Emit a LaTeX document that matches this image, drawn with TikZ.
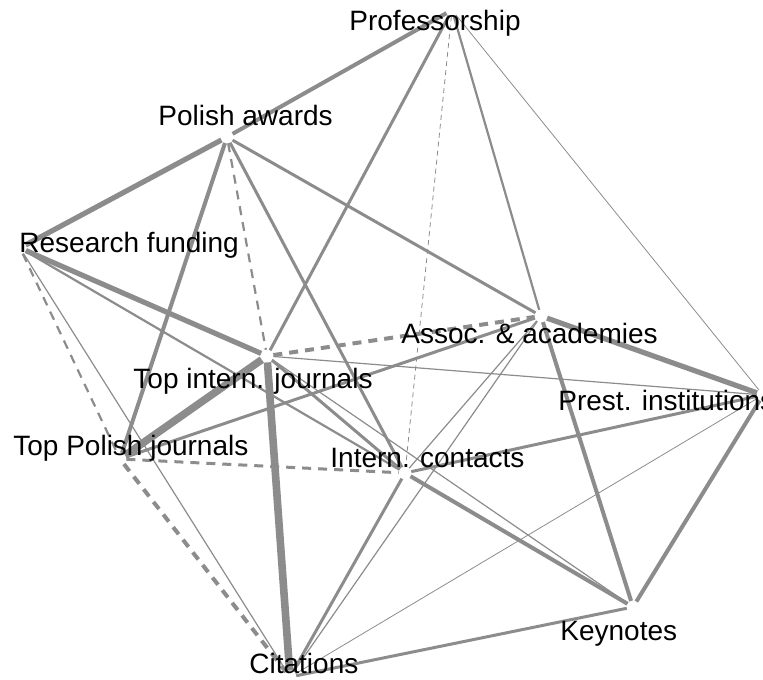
\documentclass[tikz,border=0pt]{standalone}
\usepackage{fontspec}
\setmainfont{Liberation Sans}
\definecolor{edgegray}{RGB}{140,140,140}
\begin{document}
\begin{tikzpicture}[x=0.5pt,y=-0.5pt,
    vtx/.style={circle,inner sep=0pt,minimum size=6pt},
    lbl/.style={anchor=base west,inner sep=0pt,font=\fontsize{14}{17}\selectfont},
    lnk/.style={draw=edgegray},
    faint/.style={lnk,line width=0.4pt},
    slim/.style={lnk,line width=0.6pt},
    light/.style={lnk,line width=1.1pt},
    mid/.style={lnk,line width=1.5pt},
    strong/.style={lnk,line width=2pt},
    heavy/.style={lnk,line width=2.6pt},
    massive/.style={lnk,line width=3.8pt},
    broken/.style={dash pattern=on 4.5pt off 3.5pt},
    finebroken/.style={dash pattern=on 2.5pt off 2pt}]
  \useasboundingbox (0,0) rectangle (763,679);
  \node[vtx] (prof) at (452,10) {};
  \node[vtx] (pawards) at (227,137) {};
  \node[vtx] (rfund) at (20,248) {};
  \node[vtx] (tij) at (267,356) {};
  \node[vtx] (tpj) at (120,459) {};
  \node[vtx] (ic) at (405,473) {};
  \node[vtx] (assoc) at (541,316) {};
  \node[vtx] (prest) at (763,395) {};
  \node[vtx] (keyn) at (633,607) {};
  \node[vtx] (cit) at (290,677) {};
  \draw[strong] (prof) -- (pawards);
  \draw[mid] (prof) -- (tij);
  \draw[faint,finebroken] (prof) -- (ic);
  \draw[light] (prof) -- (assoc);
  \draw[faint] (prof) -- (prest);
  \draw[heavy] (pawards) -- (rfund);
  \draw[strong] (pawards) -- (tpj);
  \draw[light,broken] (pawards) -- (tij);
  \draw[mid] (pawards) -- (ic);
  \draw[mid] (pawards) -- (assoc);
  \draw[heavy] (rfund) -- (tij);
  \draw[light] (rfund) -- (ic);
  \draw[slim] (rfund) -- (cit);
  \draw[light,broken] (rfund) -- (tpj);
  \draw[massive] (tij) -- (tpj);
  \draw[massive] (tij) -- (cit);
  \draw[strong,broken] (tij) -- (assoc);
  \draw[slim] (tij) -- (prest);
  \draw[mid] (tij) -- (ic);
  \draw[slim] (tij) -- (keyn);
  \draw[mid] (tpj) -- (assoc);
  \draw[mid,broken] (tpj) -- (ic);
  \draw[strong,broken] (tpj) -- (cit);
  \draw[mid] (ic) -- (prest);
  \draw[strong] (ic) -- (keyn);
  \draw[mid] (ic) -- (cit);
  \draw[slim] (assoc) -- (ic);
  \draw[slim] (assoc) -- (cit);
  \draw[heavy] (assoc) -- (prest);
  \draw[strong] (assoc) -- (keyn);
  \draw[strong] (prest) -- (keyn);
  \draw[faint] (prest) -- (cit);
  \draw[mid] (keyn) -- (cit);
  \node[lbl] (profl) at (349,31) {Professorship};
  \node[lbl] (pawardsl) at (158,126) {Polish awards};
  \node[lbl] (rfundl) at (19,252) {Research funding};
  \node[lbl] (assocl) at (401,343) {Assoc. \& academies};
  \node[lbl] (tijl) at (133,388) {Top intern. journals};
  \node[lbl] (prestl) at (558,410) {Prest. institutions};
  \node[lbl] (tpjl) at (13,455) {Top Polish journals};
  \node[lbl] (icl) at (330,467) {Intern. contacts};
  \node[lbl] (keynl) at (560,640) {Keynotes};
  \node[lbl] (citl) at (249,673) {Citations};
\end{tikzpicture}
\end{document}
